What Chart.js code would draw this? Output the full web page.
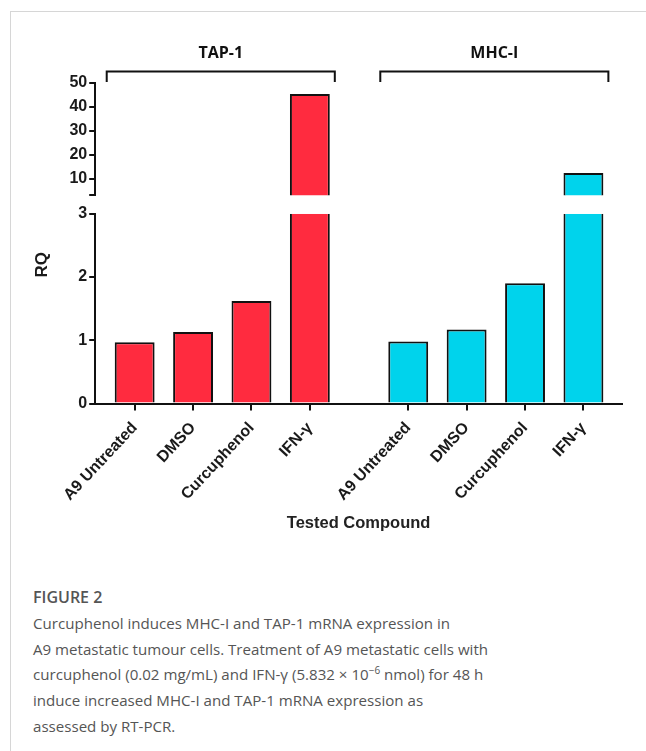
<!DOCTYPE html>
<html>
<head>
<meta charset="utf-8">
<script src="https://cdn.jsdelivr.net/npm/chart.js@4.4.1/dist/chart.umd.min.js"></script>
<style>
    body {
        margin: 0;
        background: #fff;
        width: 646px;
        height: 751px;
        overflow: hidden;
        position: relative;
    }
    #frame {
        position: absolute;
        left: 10px;
        top: 11px;
        right: 0;
        bottom: 0;
        border-left: 1px solid #d6d6d6;
        border-top: 1px solid #d6d6d6;
    }
    #chartBox {
        position: absolute;
        left: 0;
        top: 0;
        width: 646px;
        height: 547px;
    }
    #caption {
        position: absolute;
        left: 33px;
        top: 585px;
        width: 600px;
        font-family: 'Open Sans', sans-serif;
        color: #555;
        font-size: 15.1px;
        line-height: 25.8px;
    }
    #caption .fig {
        font-weight: 600;
        font-size: 16px;
    }
</style>
</head>
<body>
<div id="frame"></div>
<div id="chartBox"><canvas id="chart"></canvas></div>
<div id="caption">
    <span class="fig">FIGURE 2</span><br>
    Curcuphenol induces MHC-I and TAP-1 mRNA expression in<br>
    A9 metastatic tumour cells. Treatment of A9 metastatic cells with<br>
    curcuphenol (0.02 mg/mL) and IFN-γ (5.832 × 10<sup style="font-size:10px;line-height:0">−6</sup> nmol) for 48 h<br>
    induce increased MHC-I and TAP-1 mRNA expression as<br>
    assessed by RT-PCR.
</div>
<script>
const categories = ['A9 Untreated', 'DMSO', 'Curcuphenol', 'IFN-γ'];
const groupNames = ['TAP-1', 'MHC-I'];
const tapValues = [0.97, 1.13, 1.62, 45.4];
const mhcValues = [0.98, 1.17, 1.90, 12.4];
const lowTicks = [0, 1, 2, 3];
const highTicks = [3, 10, 20, 30, 40, 50];
const axisBreak = 3;
const groupColors = ['#ff2b3f', '#00d3ec'];

const ink = '#111';
const labelFont = { family: '"Liberation Sans", Arial, sans-serif', size: 16, weight: 'bold' };
const rqFont = { family: '"Liberation Sans", Arial, sans-serif', size: 17, weight: 'bold' };

// one dataset per group and per axis segment (below / above the break)
function barSet(values, group, part) {
    const low = part === 'low';
    return {
        data: values.map(v => low ? Math.min(v, axisBreak) : (v > axisBreak ? v : null)),
        xAxisID: group === 0 ? 'xTap' : 'xMhc',
        yAxisID: low ? 'yLow' : 'yHigh',
        backgroundColor: groupColors[group],
        borderColor: ink,
        // bars cut by the axis break get no edge at the break
        borderWidth: ctx => (low && values[ctx.dataIndex] > axisBreak)
            ? { top: 0, left: 2, right: 2, bottom: 0 }
            : { top: 2, left: 2, right: 2, bottom: 0 },
        borderSkipped: 'start',
        grouped: false,
        barPercentage: 0.683,
        categoryPercentage: 1
    };
}

// filler axes that only space the two groups along the x line
function spacerX(weight, blankHeight) {
    return {
        type: 'linear', axis: 'x', position: 'bottom', stack: 'groups', stackWeight: weight,
        min: 0, max: 1,
        ticks: { display: false },
        grid: { display: false, drawTicks: false },
        border: { display: true, color: ink, width: 2 },
        // first box of the stack sets the stack height on the first layout pass
        title: blankHeight
            ? { display: true, text: ' ', font: { size: 16 }, padding: { top: blankHeight, bottom: 0 } }
            : { display: false }
    };
}

function groupX(weight) {
    return {
        type: 'category', axis: 'x', position: 'bottom', stack: 'groups', stackWeight: weight,
        offset: true,
        grid: { display: true, offset: false, drawOnChartArea: false, drawTicks: true, tickLength: 7, lineWidth: 2, color: ink },
        border: { display: true, color: ink, width: 2 },
        ticks: { font: labelFont, color: '#1a1a1a', minRotation: 47, maxRotation: 47, autoSkip: false, padding: 8 }
    };
}

function segmentY(min, max, weight, tickValues, hideLabel) {
    return {
        type: 'linear', axis: 'y', position: 'left', stack: 'rq', stackWeight: weight,
        min: min, max: max,
        afterBuildTicks: scale => { scale.ticks = tickValues.map(v => ({ value: v })); },
        grid: { display: true, drawOnChartArea: false, drawTicks: true, tickLength: 6, lineWidth: 2, color: ink },
        border: { display: true, color: ink, width: 2 },
        ticks: {
            font: labelFont, color: '#1a1a1a', padding: 2, autoSkip: false,
            callback: v => (v === hideLabel ? '' : v)
        }
    };
}

// empty left axes carrying the RQ title, stacked so the title sits a bit low
function titleY(weight, text) {
    return {
        type: 'linear', axis: 'y', position: 'left', stack: 'rqTitle', stackWeight: weight,
        min: 0, max: 1,
        ticks: { display: false },
        grid: { display: false, drawTicks: false },
        border: { display: false },
        title: { display: true, text: text, color: '#1a1a1a', font: rqFont, padding: { top: 22, bottom: 15 } }
    };
}

const groupBrackets = {
    id: 'groupBrackets',
    afterDraw(chart) {
        const ctx = chart.ctx;
        const top = chart.chartArea.top;
        [0, 2].forEach((dsIndex, g) => {
            const bars = chart.getDatasetMeta(dsIndex).data;
            const first = bars[0];
            const last = bars[bars.length - 1];
            const left = first.x - first.width / 2 - 8;
            const right = last.x + last.width / 2 + 5;
            ctx.save();
            ctx.strokeStyle = ink;
            ctx.lineWidth = 2;
            ctx.beginPath();
            ctx.moveTo(left, top - 1);
            ctx.lineTo(left, top - 11.5);
            ctx.lineTo(right, top - 11.5);
            ctx.lineTo(right, top - 1);
            ctx.stroke();
            ctx.font = 'bold 16px "Open Sans", sans-serif';
            ctx.fillStyle = ink;
            ctx.textAlign = 'center';
            ctx.textBaseline = 'middle';
            ctx.fillText(groupNames[g], (left + right) / 2, top - 30);
            ctx.restore();
        });
    }
};

new Chart(document.getElementById('chart'), {
    type: 'bar',
    data: {
        labels: categories,
        datasets: [
            barSet(tapValues, 0, 'low'),
            barSet(tapValues, 0, 'high'),
            barSet(mhcValues, 1, 'low'),
            barSet(mhcValues, 1, 'high')
        ]
    },
    options: {
        responsive: true,
        maintainAspectRatio: false,
        animation: false,
        layout: { padding: { top: 83, left: 10, right: 24, bottom: 6 } },
        plugins: {
            legend: { display: false },
            tooltip: { enabled: false },
            title: {
                display: true, position: 'bottom', fullSize: false,
                text: 'Tested Compound', color: '#222',
                font: { family: '"Liberation Sans", Arial, sans-serif', size: 16.5, weight: 'bold' },
                padding: { top: 1, bottom: 8 }
            }
        },
        scales: {
            xLead: spacerX(10.3, 88),
            xTap: groupX(234.4),
            xGap: spacerX(40.1),
            xMhc: groupX(234.4),
            xTrail: spacerX(9.4),
            yLow: segmentY(0, 3, 190, lowTicks, null),
            yGap: {
                type: 'linear', axis: 'y', position: 'left', stack: 'rq', stackWeight: 18.3,
                min: 0, max: 1,
                ticks: { display: false },
                grid: { display: false, drawTicks: false },
                border: { display: false }
            },
            yHigh: segmentY(3, 50, 112.4, highTicks, 3),
            yTitle: titleY(278, 'RQ'),
            yTitleTop: titleY(43, ' ')
        }
    },
    plugins: [groupBrackets]
});
</script>
</body>
</html>
